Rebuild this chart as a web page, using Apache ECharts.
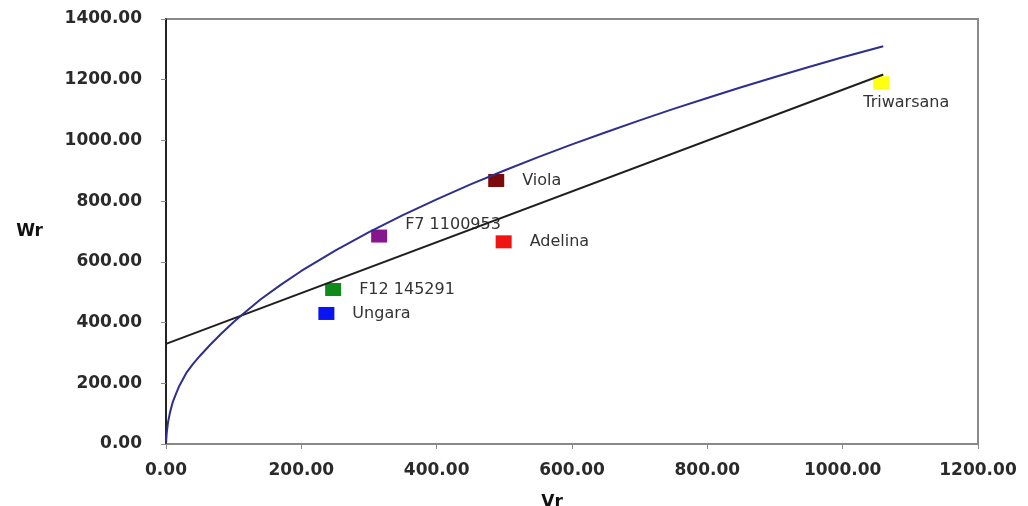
<!DOCTYPE html>
<html>
<head>
<meta charset="utf-8">
<script src="https://cdn.jsdelivr.net/npm/echarts@6/dist/echarts.min.js"></script>
<style>
  html, body { margin: 0; padding: 0; background: #fff; }
  #chart { width: 1028px; height: 506px; }
</style>
</head>
<body>
<div id="chart"></div>
<script>
// Varieties (scatter points)
const varietyNames = ['Ungara', 'F12 145291', 'F7 1100953', 'Adelina', 'Viola', 'Triwarsana'];
const varietyVr = [237, 247, 315, 499, 488, 1057];
const varietyWr = [430, 509, 685, 666, 868, 1190];
const varietyColors = ['#0a14f0', '#118a1c', '#85168c', '#f01515', '#7d0a0a', '#ffff10'];

// Regression line (Wr on Vr), read endpoints
const regVr = [0, 1060];
const regWr = [330, 1217];

// Limit parabola curve, read points
const curveVr = [0, 1, 3, 6, 10, 15, 20, 30, 40, 50, 65, 80, 100, 120, 140, 170, 200, 250, 300, 350, 400, 450, 500, 550, 600, 650, 700, 750, 800, 850, 900, 950, 1000, 1060];
const curveWr = [0, 35, 72, 105, 138, 167, 193, 234, 264, 290, 326, 360, 402, 440, 477, 525, 570, 637, 698, 754, 806, 855, 901, 945, 987, 1027, 1066, 1104, 1140, 1175, 1209, 1242, 1274, 1310];

// Axis ticks
const xTicks = [0, 200, 400, 600, 800, 1000, 1200];
const yTicks = [0, 200, 400, 600, 800, 1000, 1200, 1400];

const labelOffsets = {
  'F7 1100953': { position: 'right', offset: [0, -11] },
  'Triwarsana': { position: 'bottom', offset: [25, 0], distance: 6 }
};

const scatterData = varietyNames.map((n, i) => {
  const o = labelOffsets[n] || { position: 'right', offset: [0, 0] };
  return {
    name: n,
    value: [varietyVr[i], varietyWr[i]],
    itemStyle: { color: varietyColors[i], opacity: 1 },
    label: {
      show: true,
      formatter: n,
      position: o.position,
      offset: o.offset,
      distance: o.distance !== undefined ? o.distance : 18
    }
  };
});

const chart = echarts.init(document.getElementById('chart'), null, { renderer: 'canvas' });
chart.setOption({
  animation: false,
  backgroundColor: '#ffffff',
  grid: {
    left: 166, right: 50, top: 19, bottom: 62,
    containLabel: false, outerBoundsMode: 'none',
    show: true, borderColor: '#8a8a8a', borderWidth: 2, backgroundColor: 'transparent'
  },
  xAxis: {
    type: 'value',
    min: xTicks[0], max: xTicks[xTicks.length - 1], interval: 200,
    name: 'Vr', nameLocation: 'middle', nameGap: 50,
    nameTextStyle: { fontFamily: 'DejaVu Sans', fontWeight: 'bold', fontSize: 17, color: '#111', padding: [0, 40, 0, 0] },
    axisLine: { show: true, onZero: false, lineStyle: { color: '#888', width: 1.5 } },
    axisTick: { show: true, length: 5, lineStyle: { color: '#888' } },
    splitLine: { show: false },
    axisLabel: {
      margin: 18, fontFamily: 'DejaVu Sans', fontWeight: 'bold', fontSize: 17, color: '#2a2a2a',
      formatter: v => v.toFixed(2)
    }
  },
  yAxis: {
    type: 'value',
    min: yTicks[0], max: yTicks[yTicks.length - 1], interval: 200,
    name: 'Wr', nameLocation: 'middle', nameGap: 123, nameRotate: 0,
    nameTextStyle: { fontFamily: 'DejaVu Sans', fontWeight: 'bold', fontSize: 17, color: '#111' },
    axisLine: { show: true, onZero: false, lineStyle: { color: '#000', width: 1.5 } },
    axisTick: { show: true, length: 5, lineStyle: { color: '#888' } },
    splitLine: { show: false },
    axisLabel: {
      margin: 24, fontFamily: 'DejaVu Sans', fontWeight: 'bold', fontSize: 17, color: '#2a2a2a',
      formatter: v => v.toFixed(2)
    }
  },
  series: [
    {
      type: 'scatter',
      z: 2,
      symbol: 'rect',
      symbolSize: [16, 13],
      itemStyle: { opacity: 1 },
      data: scatterData,
      label: { fontFamily: 'DejaVu Sans', fontSize: 16, color: '#333' }
    },
    {
      type: 'line',
      z: 3,
      showSymbol: false,
      data: regVr.map((x, i) => [x, regWr[i]]),
      lineStyle: { color: '#1e1e1e', width: 2 }
    },
    {
      type: 'line',
      z: 3,
      showSymbol: false,
      smooth: false,
      data: curveVr.map((x, i) => [x, curveWr[i]]),
      lineStyle: { color: '#2e2e8c', width: 2 }
    }
  ]
});
</script>
</body>
</html>
